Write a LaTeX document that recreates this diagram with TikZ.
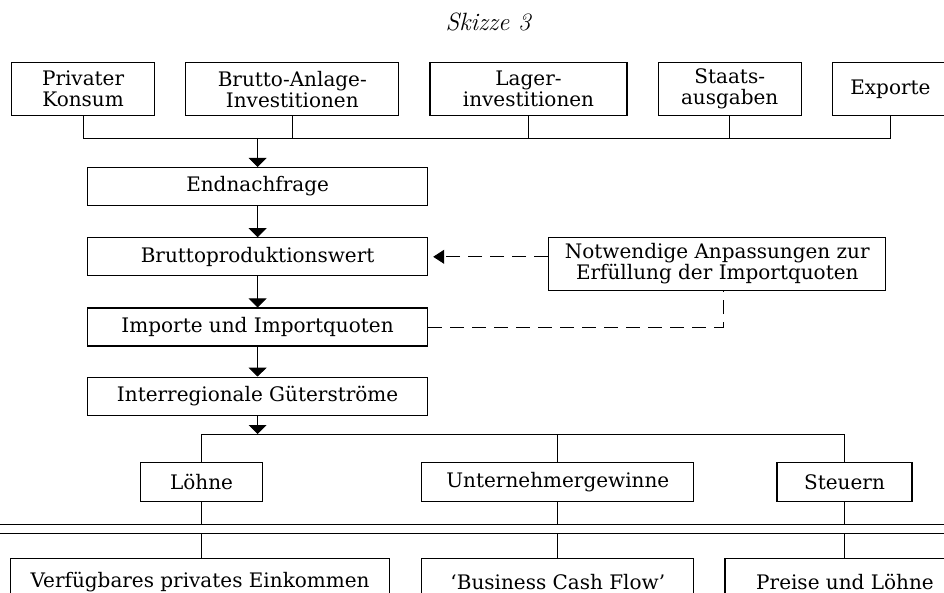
\documentclass[tikz,border=0pt]{standalone}
\usepackage{fontspec}
\newfontfamily\boxfont{DejaVu Serif}
\usetikzlibrary{positioning,arrows.meta}

\tikzset{
  box/.style={draw,line width=1.2pt,inner sep=2pt,align=center,
    font=\boxfont\fontsize{20}{21}\selectfont},
  pfeil/.style={-{Triangle[width=18pt,length=9pt]}},
  strich/.style={dash pattern=on 14pt off 8pt},
}

\begin{document}
\begin{tikzpicture}[x=1pt,y=-1pt,node distance=30pt,line width=0.9pt]
\useasboundingbox (0,0) rectangle (944,593);
\clip (0,0) rectangle (944,593);
\fill[white] (0,0) rectangle (944,593);

% title
\node (title) at (488,22) {\fontsize{25}{28}\selectfont\itshape Skizze 3};

% nodes
\node (pk) [box,anchor=north west,minimum width=143pt,minimum height=53pt] at (11,62) {Privater\\Konsum};
\node (bai) [box,right=of pk,minimum width=213pt,minimum height=53pt] {Brutto-Anlage-\\Investitionen};
\node (lag) [box,right=of bai,minimum width=197pt,minimum height=53pt] {Lager-\\investitionen};
\node (sta) [box,right=of lag,minimum width=143pt,minimum height=53pt] {Staats-\\ausgaben};
\node (exp) [box,right=of sta,minimum width=116pt,minimum height=53pt] {Exporte};

\node (endn) [box,anchor=north west,minimum width=340pt,minimum height=38pt] at (87,167) {Endnachfrage};
\node (bpw) [box,below=31pt of endn,minimum width=340pt,minimum height=38pt] {Bruttoproduktionswert};
\node (imp) [box,below=31pt of bpw,minimum width=340pt,minimum height=38pt] {Importe und Importquoten};
\node (igs) [box,below=of imp,minimum width=340pt,minimum height=38pt] {Interregionale Güterströme};
\node (notw) [box,right=120pt of bpw,yshift=-7pt,minimum width=337pt,minimum height=53pt] {Notwendige Anpassungen zur\\Erfüllung der Importquoten};

\node (loehne) [box,anchor=north west,minimum width=122pt,minimum height=39pt] at (140,462) {Löhne};
\node (untern) [box,right=158pt of loehne,minimum width=272pt,minimum height=39pt] {Unternehmergewinne};
\node (steuern) [box,right=82pt of untern,minimum width=135pt,minimum height=39pt] {Steuern};

\node (vpe) [box,anchor=north west,minimum width=379pt,minimum height=46pt] at (10,558) {Verfügbares privates Einkommen};
\node (bcf) [box,right=31pt of vpe,minimum width=272pt,minimum height=46pt] {‘Business Cash Flow’};
\node (pul) [box,right=of bcf,minimum width=240pt,minimum height=46pt] {Preise und Löhne};

% arrows
\coordinate (bus) at (0,138);
\draw (pk.south) |- (exp.south |- bus) -- (exp.south);
\foreach \n in {bai,lag,sta}
  \draw (\n.south) -- (\n.south |- bus);
\draw[pfeil] (endn.north |- bus) -- (endn.north);
\draw[pfeil] (endn) -- (bpw);
\draw[pfeil] (bpw) -- (imp);
\draw[pfeil] (imp) -- (igs);

\draw[strich,-{Triangle[width=14pt,length=11pt]}] (bpw.east -| notw.west) -- ([xshift=5pt]bpw.east);
\draw[strich] (imp.east) -| ([xshift=6pt]notw.south);

\coordinate (bus2) at (0,434);
\draw[pfeil] (igs.south) -- (igs.south |- bus2);
\draw (loehne.north) |- (steuern.north |- bus2) -- (steuern.north);
\draw (untern.north) -- (untern.north |- bus2);

% double line
\coordinate (sepa) at (0,524);
\coordinate (sepb) at (0,533);
\draw (0,524) -- (944,524);
\draw (0,533) -- (944,533);
\foreach \o/\u in {loehne/vpe,untern/bcf,steuern/pul}{
  \draw (\o.south) -- (\o.south |- sepa);
  \draw (\o.south |- sepb) -- (\o.south |- \u.north);
}
\end{tikzpicture}
\end{document}
